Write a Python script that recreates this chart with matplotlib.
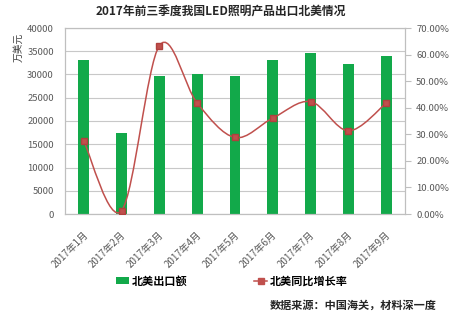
import matplotlib
matplotlib.use("Agg")
import matplotlib.pyplot as plt
from matplotlib.path import Path
from matplotlib.patches import PathPatch, Patch
from matplotlib.lines import Line2D
from matplotlib.ticker import FuncFormatter, MultipleLocator
from matplotlib.transforms import ScaledTranslation
import numpy as np

plt.rcParams['font.family'] = ['Noto Sans CJK SC', 'DejaVu Sans']

months = ['2017年1月', '2017年2月', '2017年3月', '2017年4月', '2017年5月',
          '2017年6月', '2017年7月', '2017年8月', '2017年9月']
export_value = [33200, 17400, 29600, 30100, 29600, 33200, 34600, 32300, 33900]
growth_rate = [27.3, 1.3, 63.4, 41.7, 28.8, 36.1, 42.3, 31.3, 41.7]

GREEN = '#12A94A'
RED = '#C0504D'
GRAY = '#595959'

fig = plt.figure(figsize=(4.5, 3.15), dpi=100)
ax = fig.add_axes([65/450, 1-214/315, 340/450, 186/315])
ax2 = ax.twinx()

x = np.arange(len(months))
ax.bar(x, export_value, width=0.29, color=GREEN, zorder=2)
ax.set_xlim(-0.5, len(months)-0.5)
ax.set_ylim(0, 40000)
ax.yaxis.set_major_locator(MultipleLocator(5000))
ax.grid(axis='y', color='#C8C8C8', linewidth=0.8, zorder=0)
ax.set_axisbelow(True)
ax.tick_params(axis='y', length=0, labelsize=6.8, labelcolor=GRAY, pad=8)
ax.tick_params(axis='x', length=0, labelsize=7, labelcolor=GRAY, pad=11)
ax.set_xticks(x)
ax.set_xticklabels(months, rotation=45, ha='right')
offset = ScaledTranslation(6/100, 0, fig.dpi_scale_trans)
for lab in ax.get_xticklabels():
    lab.set_transform(lab.get_transform() + offset)
for sp in ['top', 'bottom', 'left', 'right']:
    ax.spines[sp].set_color('#BFBFBF')
    ax.spines[sp].set_linewidth(0.8)

# smoothed line (Excel-like Bezier through the data points)
pts = np.column_stack([x, growth_rate]).astype(float)
verts = [tuple(pts[0])]
codes = [Path.MOVETO]
n = len(pts)
for i in range(n-1):
    p0 = pts[i-1] if i > 0 else pts[i]
    p1 = pts[i]
    p2 = pts[i+1]
    p3 = pts[i+2] if i+2 < n else pts[i+1]
    c1 = p1 + (p2 - p0) / 6.0
    c2 = p2 - (p3 - p1) / 6.0
    verts += [tuple(c1), tuple(c2), tuple(p2)]
    codes += [Path.CURVE4]*3
ax2.add_patch(PathPatch(Path(verts, codes), facecolor='none', edgecolor=RED,
                        linewidth=1.1, zorder=3))
ax2.plot(x, growth_rate, linestyle='none', marker='s', markersize=4,
         color=RED, markeredgecolor='#B0403D', zorder=4)
ax2.set_ylim(0, 70)
ax2.yaxis.set_major_locator(MultipleLocator(10))
ax2.yaxis.set_major_formatter(FuncFormatter(lambda v, p: f'{v:.2f}%'))
ax2.tick_params(axis='y', length=4, width=0.8, color='#BFBFBF',
                labelsize=6.8, labelcolor=GRAY, pad=4)
for sp in ['top', 'bottom', 'left', 'right']:
    ax2.spines[sp].set_color('#BFBFBF')
    ax2.spines[sp].set_linewidth(0.8)

fig.text(0.49, 0.962, '2017年前三季度我国LED照明产品出口北美情况',
         ha='center', va='center', fontsize=8.5, fontweight='bold', color='#262626')
fig.text(0.042, 0.85, '万美元', rotation=90, ha='center', va='center',
         fontsize=7, color='#404040')

handles = [Patch(facecolor=GREEN, edgecolor='none'),
           Line2D([0], [0], color=RED, linewidth=1.1, marker='s', markersize=4)]
fig.legend(handles, ['北美出口额', '北美同比增长率'], loc='center',
           bbox_to_anchor=(0.515, 0.108), ncol=2, frameon=False,
           handlelength=1.2, handleheight=0.5, handletextpad=0.2,
           columnspacing=6, prop={'weight': 'bold', 'size': 8})
fig.text(0.971, 0.032, '数据来源：中国海关，材料深一度', ha='right', va='center',
         fontsize=8, fontweight='bold', color='#262626')

fig.savefig('out.png', dpi=100)
